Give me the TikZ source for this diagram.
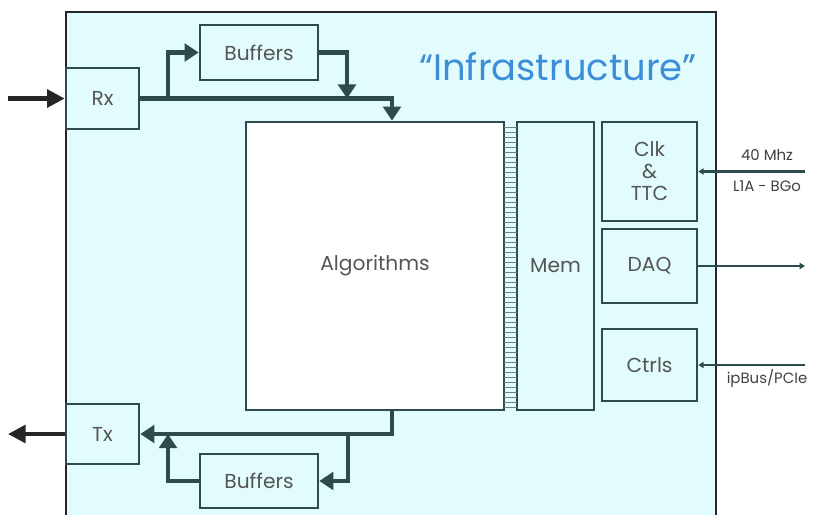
\documentclass[tikz,border=0pt]{standalone}
\usepackage{fontspec}
\setmainfont{Poppins}
\usetikzlibrary{arrows.meta}

\definecolor{boardfill}{HTML}{E2FBFD}
\definecolor{boxline}{HTML}{2E4B4D}
\definecolor{labelgray}{HTML}{555555}
\definecolor{titleblue}{HTML}{3C8ED8}

\tikzset{
  blk/.style={draw=boxline, line width=1.5pt, fill=boardfill, text=labelgray,
    font=\fontsize{11.5}{12.5}\selectfont, inner sep=0pt, align=center},
  bus/.style={draw=boxline, line width=2.3pt, -{Triangle[width=10pt,length=8pt]}},
  link/.style={draw=boxline, line width=1.2pt, -{Triangle[width=3.5pt,length=3pt]}},
  ext/.style={draw=black!85, line width=2.3pt, -{Triangle[width=10pt,length=10pt]}},
  sig/.style={text=black!75, font=\fontsize{8.5}{9}\selectfont},
}

\begin{document}
\begin{tikzpicture}[x=0.02cm, y=-0.02cm]
    \useasboundingbox (0,0) rectangle (813,515);

    % the board, open at the bottom
    \fill[boardfill] (66,12) rectangle (716,515);
    \draw[line width=1.4pt, black!85] (66,515) |- (716,12) -- (716,515);

    \node[text=titleblue, font=\fontsize{21}{24}\selectfont] (title) at (558,67) {“Infrastructure”};

    % links and buffers
    \node[blk, minimum width=1.46cm, minimum height=1.22cm] (rx) at (102.5,98.5) {Rx};
    \node[blk, minimum width=1.46cm, minimum height=1.2cm] (tx) at (102.5,434) {Tx};
    \node[blk, minimum width=2.36cm, minimum height=1.1cm] (bufIn) at (259,52.5) {Buffers};
    \node[blk, minimum width=2.36cm, minimum height=1.08cm] (bufOut) at (259,481) {Buffers};

    % processing
    \node[blk, fill=white, minimum width=5.16cm, minimum height=5.76cm] (algo) at (375,266) {Algorithms};
    \node[blk, minimum width=1.54cm, minimum height=5.76cm] (mem) at (555.5,266) {Mem};

    % memory interface
    \foreach \y in {127,132,...,407}
        \draw[boxline!70, line width=0.5pt] (504,\y) -- (517,\y);

    % services
    \node[blk, minimum width=1.9cm, minimum height=1.98cm] (clk) at (649.5,171.5) {Clk\\\&\\TTC};
    \node[blk, minimum width=1.9cm, minimum height=1.48cm] (daq) at (649.5,266) {DAQ};
    \node[blk, minimum width=1.9cm, minimum height=1.44cm] (ctrl) at (649.5,365) {Ctrls};

    % input path
    \coordinate (rxIn) at (8,98.5);
    \draw[ext] (rxIn) -- (rx.west);
    \coordinate (algoIn) at ([xshift=0.34cm]algo.north);
    \draw[bus] (rx.east) -| (algoIn);
    \coordinate (rxSplit) at (168,98.5);
    \draw[bus] (rxSplit) |- (bufIn.west);
    \coordinate (rxMerge) at (347,98.5);
    \draw[bus] (bufIn.east) -| (rxMerge);

    % output path
    \coordinate (txOut) at (8,434);
    \draw[ext] (tx.west) -- (txOut);
    \coordinate (algoOut) at ([xshift=0.34cm]algo.south);
    \draw[bus] (algoOut) |- (tx.east);
    \coordinate (txSplit) at (348,434);
    \draw[bus] (txSplit) |- (bufOut.east);
    \coordinate (txMerge) at (168,434);
    \draw[bus] (bufOut.west) -| (txMerge);

    % external signals
    \coordinate (ttcIn) at (805,171.5);
    \draw[link] (ttcIn) -- (clk.east);
    \node[sig] (freq) at (767,155) {40 Mhz};
    \node[sig] (l1a) at (767,186) {L1A - BGo};
    \coordinate (daqOut) at (805,266);
    \draw[link] (daq.east) -- (daqOut);
    \coordinate (busIn) at (805,365);
    \draw[link] (busIn) -- (ctrl.east);
    \node[sig] (ipbus) at (767,378) {ipBus/PCIe};
\end{tikzpicture}
\end{document}
